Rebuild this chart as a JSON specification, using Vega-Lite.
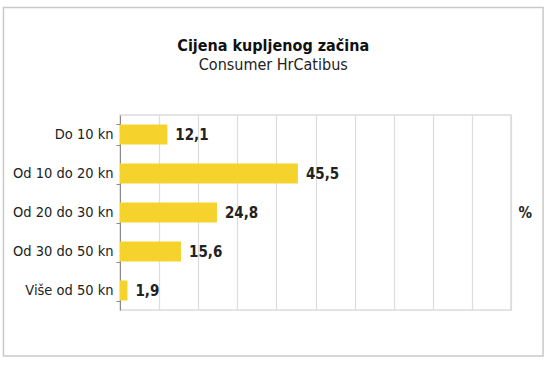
{
  "$schema": "https://vega.github.io/schema/vega-lite/v6.json",
  "width": 391,
  "height": 195,
  "autosize": {"type": "none"},
  "padding": {"left": 120, "top": 115, "right": 39, "bottom": 57},
  "background": "#ffffff",
  "config": {
    "locale": {"number": {"decimal": ",", "thousands": ".", "grouping": [3], "currency": ["", ""]}},
    "view": {"stroke": "#dcdcdc", "strokeWidth": 1.5},
    "font": "Liberation Sans Narrow, DejaVu Sans Condensed, Roboto Condensed, sans-serif"
  },
  "title": {
    "text": "Cijena kupljenog začina",
    "subtitle": "Consumer HrCatibus",
    "anchor": "middle",
    "frame": "bounds",
    "offset": -66,
    "fontSize": 16,
    "fontWeight": "bold",
    "color": "#111111",
    "subtitleFontSize": 16,
    "subtitleColor": "#222222",
    "subtitlePadding": 3
  },
  "resolve": {"scale": {"y": "independent"}, "axis": {"y": "independent"}},
  "layer": [
    {
      "data": {"values": [{}]},
      "mark": {"type": "rect", "fill": null, "fillOpacity": 0, "stroke": "#c9c9c9", "strokeWidth": 1.5},
      "encoding": {
        "x": {
          "datum": -29.8,
          "type": "quantitative",
          "scale": {"domain": [0, 100], "nice": false, "zero": false},
          "axis": {"title": null, "labels": false, "ticks": false, "domain": false, "grid": true, "gridColor": "#dcdcdc", "gridWidth": 1.2, "values": [0, 10, 20, 30, 40, 50, 60, 70, 80, 90, 100]}
        },
        "x2": {"datum": 108.2},
        "y": {
          "datum": -107.5,
          "type": "quantitative",
          "scale": {"domain": [0, 195], "reverse": true, "nice": false, "zero": false},
          "axis": {"orient": "right", "title": "%", "titleAngle": 0, "labels": false, "ticks": false, "domain": false, "grid": false, "titlePadding": 7, "titleFontSize": 15, "titleFontWeight": "bold", "titleColor": "#222222", "titleAlign": "left", "titleBaseline": "middle"}
        },
        "y2": {"datum": 241}
      }
    },
    {
      "data": {
        "values": [
          {"kategorija": "Do 10 kn", "udio": 12.1},
          {"kategorija": "Od 10 do 20 kn", "udio": 45.5},
          {"kategorija": "Od 20 do 30 kn", "udio": 24.8},
          {"kategorija": "Od 30 do 50 kn", "udio": 15.6},
          {"kategorija": "Više od 50 kn", "udio": 1.9}
        ]
      },
      "encoding": {
        "y": {
          "field": "kategorija",
          "type": "nominal",
          "sort": null,
          "scale": {"paddingInner": 0.487, "paddingOuter": 0.2435},
          "axis": {"title": null, "domain": true, "domainColor": "#8a8a8a", "ticks": true, "tickBand": "extent", "tickSize": 4, "tickColor": "#8a8a8a", "labelFontSize": 14.5, "labelColor": "#222222", "labelPadding": 3, "grid": false}
        },
        "x": {
          "field": "udio",
          "type": "quantitative",
          "scale": {"domain": [0, 100], "nice": false, "zero": false},
          "axis": {"title": null, "labels": false, "ticks": false, "domain": false, "grid": true, "gridColor": "#dcdcdc", "gridWidth": 1.2, "values": [0, 10, 20, 30, 40, 50, 60, 70, 80, 90, 100]}
        }
      },
      "layer": [
        {"mark": {"type": "bar", "color": "#f5d32c"}},
        {
          "mark": {"type": "text", "align": "left", "baseline": "middle", "dx": 8, "fontWeight": "bold", "fontSize": 15, "color": "#222222"},
          "encoding": {"text": {"field": "udio", "type": "quantitative", "format": ".1f"}}
        }
      ]
    }
  ]
}
